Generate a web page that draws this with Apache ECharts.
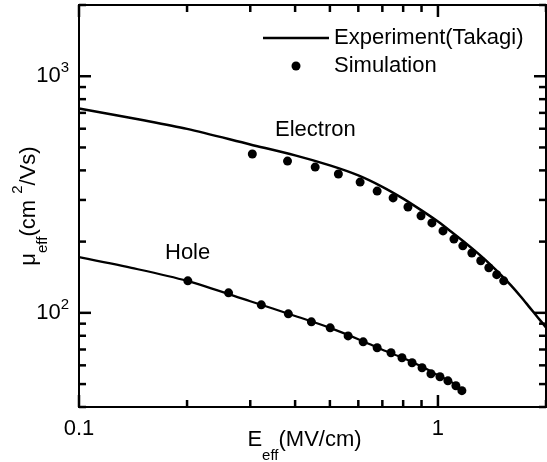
<!DOCTYPE html>
<html>
<head>
<meta charset="utf-8">
<script src="https://cdn.jsdelivr.net/npm/echarts@6/dist/echarts.min.js"></script>
<style>
html,body{margin:0;padding:0;background:#fff;}
#chart{width:547px;height:462px;}
</style>
</head>
<body>
<div id="chart"></div>
<script>
// Experiment (Takagi) curves
const electronExpE  = [0.1, 0.15, 0.2, 0.3, 0.4, 0.5, 0.6, 0.7, 0.8, 0.9, 1.0, 1.1, 1.2, 1.3, 1.4, 1.5, 1.6, 1.7, 1.8, 1.9, 2.0];
const electronExpMu = [731, 653, 599, 515, 463, 420, 381, 341, 304, 271, 243, 217.5, 196, 177, 160, 144.5, 130.4, 117.3, 105.5, 95.4, 86.8];
const holeExpE  = [0.1, 0.14, 0.2, 0.3, 0.4, 0.5, 0.6, 0.7, 0.8, 0.9, 1.0, 1.1, 1.17];
const holeExpMu = [172, 155, 136.5, 112, 97, 86.4, 77.4, 69.8, 64.4, 59.3, 54.5, 50.6, 47];
// Simulation points
const electronSimE  = [0.304, 0.381, 0.455, 0.528, 0.607, 0.677, 0.750, 0.825, 0.897, 0.962, 1.033, 1.108, 1.173, 1.243, 1.316, 1.386, 1.458, 1.525];
const electronSimMu = [469, 438, 413, 386, 357, 327, 306, 280, 257, 240, 222, 205, 192, 179, 166, 155, 145, 136.5];
const holeSimE  = [0.201, 0.261, 0.322, 0.383, 0.444, 0.501, 0.562, 0.619, 0.677, 0.740, 0.794, 0.847, 0.903, 0.956, 1.013, 1.066, 1.122, 1.166];
const holeSimMu = [136.5, 121.5, 108.1, 99.0, 91.6, 86.4, 79.9, 75.4, 71.2, 67.8, 64.6, 61.5, 58.6, 55.3, 53.7, 51.6, 49.2, 46.9];
// Axis ranges and ticks
const X_MIN = 0.1, X_MAX = 2, Y_MIN = 40, Y_MAX = 2000;
const xMajorTicks = [0.1, 1];
const xMinorTicks = [0.2, 0.3, 0.4, 0.5, 0.6, 0.7, 0.8, 0.9, 2];
const yMajorTicks = [100, 1000];
const yMinorTicks = [40, 50, 60, 70, 80, 90, 200, 300, 400, 500, 600, 700, 800, 900, 2000];
const xTickLabels = ['0.1', '1'];
const yTickExponents = ['2', '3'];

const FONT = 'Liberation Sans, Arial, sans-serif';
const BLACK = '#000';
const MAJOR_LEN = 12, MINOR_LEN = 7, TICK_W = 2.5;

function zip(a, b) { return a.map((v, i) => [v, b[i]]); }

// inward tick marks drawn as thin rect symbols placed by the axes' own scales
function tickSeries(data, size, offset) {
  return {
    type: 'scatter', silent: true, clip: false, z: 5, legendHoverLink: false,
    symbol: 'rect', symbolSize: size, symbolOffset: offset,
    itemStyle: { color: BLACK, opacity: 1 },
    emphasis: { disabled: true },
    data: data
  };
}

const chart = echarts.init(document.getElementById('chart'), null, { renderer: 'canvas' });
chart.setOption({
  animation: false,
  backgroundColor: '#fff',
  grid: {
    left: 79, right: 1, top: 5, bottom: 55, containLabel: false, outerBoundsMode: 'none',
    show: true, borderColor: BLACK, borderWidth: 2, backgroundColor: 'transparent'
  },
  xAxis: {
    type: 'log', logBase: 10, min: X_MIN, max: X_MAX,
    axisLine: { show: false }, axisTick: { show: false }, splitLine: { show: false }, minorTick: { show: false },
    axisLabel: {
      show: true, customValues: xMajorTicks, margin: 11,
      color: BLACK, fontSize: 22, fontFamily: FONT,
      formatter: v => { const i = xMajorTicks.findIndex(t => Math.abs(t - v) < 1e-9); return i < 0 ? '' : xTickLabels[i]; }
    },
    name: '{m|E}{sub|eff}{r|(MV/cm)}',
    nameLocation: 'middle', nameGap: 9.5, nameMoveOverlap: false,
    nameTextStyle: {
      rich: {
        m: { fontSize: 22, fontFamily: FONT, color: BLACK },
        r: { fontSize: 22, fontFamily: FONT, color: BLACK, padding: [0, 16, 0, 0] },
        sub: { fontSize: 15, fontFamily: FONT, color: BLACK, padding: [32, 0, 0, 0] }
      }
    }
  },
  yAxis: {
    type: 'log', logBase: 10, min: Y_MIN, max: Y_MAX,
    axisLine: { show: false }, axisTick: { show: false }, splitLine: { show: false }, minorTick: { show: false },
    axisLabel: {
      show: true, customValues: yMajorTicks, margin: 10,
      formatter: v => { const i = yMajorTicks.findIndex(t => Math.abs(t - v) < 1e-6); return i < 0 ? '' : '{m|10}{s|' + yTickExponents[i] + '}'; },
      rich: {
        m: { fontSize: 22, fontFamily: FONT, color: BLACK },
        s: { fontSize: 15, fontFamily: FONT, color: BLACK, padding: [0, 0, 16, 0] }
      }
    },
    name: '{m|\u03bc}{sub|eff}{m|(cm }{sup|2}{m|/Vs)}',
    nameLocation: 'middle', nameRotate: 90, nameGap: 28.5, nameMoveOverlap: false,
    nameTextStyle: {
      rich: {
        m: { fontSize: 22, fontFamily: FONT, color: BLACK },
        sub: { fontSize: 15, fontFamily: FONT, color: BLACK, padding: [28, 0, 0, 0] },
        sup: { fontSize: 15, fontFamily: FONT, color: BLACK, padding: [0, 0, 22, 0] }
      }
    }
  },
  legend: {
    orient: 'vertical', left: 258, top: 22, itemGap: 6,
    itemWidth: 66, itemHeight: 9,
    textStyle: { fontSize: 22, fontFamily: FONT, color: BLACK },
    data: [
      { name: 'Experiment(Takagi)', icon: 'path://M0,0M0,3.25L66,3.25L66,5.75L0,5.75ZM66,9' },
      { name: 'Simulation', icon: 'circle' }
    ]
  },
  graphic: [
    { type: 'text', x: 275, y: 130, style: { text: 'Electron', fontSize: 22, fontFamily: FONT, fill: BLACK, verticalAlign: 'middle' } },
    { type: 'text', x: 165, y: 253, style: { text: 'Hole', fontSize: 22, fontFamily: FONT, fill: BLACK, verticalAlign: 'middle' } }
  ],
  series: [
    { name: 'Experiment(Takagi)', type: 'line', smooth: 0.3, symbol: 'none', data: zip(electronExpE, electronExpMu),
      lineStyle: { color: BLACK, width: 2.5 }, itemStyle: { color: BLACK } },
    { name: 'Experiment(Takagi)', type: 'line', smooth: 0.3, symbol: 'none', data: zip(holeExpE, holeExpMu),
      lineStyle: { color: BLACK, width: 2.2 }, itemStyle: { color: BLACK } },
    { name: 'Simulation', type: 'scatter', symbol: 'circle', symbolSize: 9, data: zip(electronSimE, electronSimMu),
      itemStyle: { color: BLACK, opacity: 1 } },
    { name: 'Simulation', type: 'scatter', symbol: 'circle', symbolSize: 9, data: zip(holeSimE, holeSimMu),
      itemStyle: { color: BLACK, opacity: 1 } },
    // bottom / top ticks
    tickSeries(xMajorTicks.map(v => [v, Y_MIN]), [TICK_W, MAJOR_LEN], [0, -MAJOR_LEN / 2]),
    tickSeries(xMinorTicks.map(v => [v, Y_MIN]), [TICK_W, MINOR_LEN], [0, -MINOR_LEN / 2]),
    tickSeries(xMajorTicks.map(v => [v, Y_MAX]), [TICK_W, MAJOR_LEN], [0, MAJOR_LEN / 2]),
    tickSeries(xMinorTicks.map(v => [v, Y_MAX]), [TICK_W, MINOR_LEN], [0, MINOR_LEN / 2]),
    // left / right ticks
    tickSeries(yMajorTicks.map(v => [X_MIN, v]), [MAJOR_LEN, TICK_W], [MAJOR_LEN / 2, 0]),
    tickSeries(yMinorTicks.map(v => [X_MIN, v]), [MINOR_LEN, TICK_W], [MINOR_LEN / 2, 0]),
    tickSeries(yMajorTicks.map(v => [X_MAX, v]), [MAJOR_LEN, TICK_W], [-MAJOR_LEN / 2, 0]),
    tickSeries(yMinorTicks.map(v => [X_MAX, v]), [MINOR_LEN, TICK_W], [-MINOR_LEN / 2, 0])
  ]
});
</script>
</body>
</html>
